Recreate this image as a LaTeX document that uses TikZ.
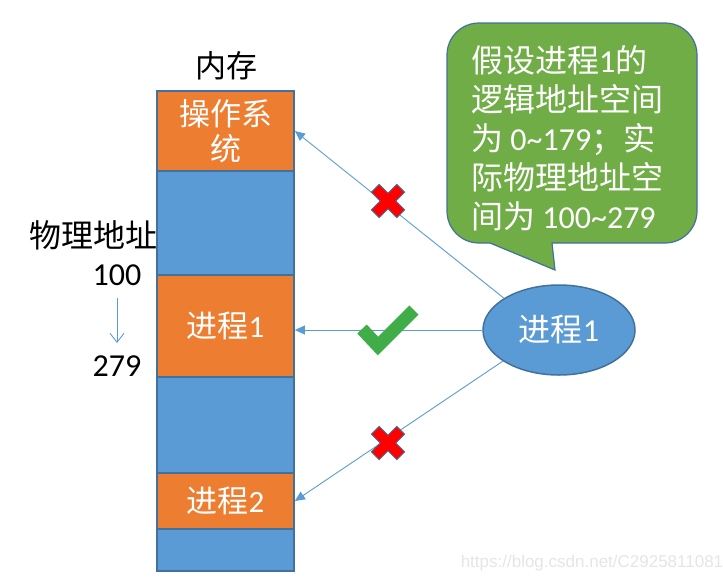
\documentclass[tikz,border=0pt]{standalone}
\usepackage{fontspec}
\setmainfont{Carlito}
\newfontfamily\cjk{Noto Sans CJK SC}
\newfontfamily\wmfont{Liberation Sans}
\usetikzlibrary{arrows.meta,shapes.geometric}
\definecolor{mblue}{HTML}{5B9BD5}
\definecolor{morange}{HTML}{ED7D31}
\definecolor{mborder}{HTML}{41719C}
\definecolor{mgreen}{HTML}{70AD47}
\definecolor{mcheck}{HTML}{41AD49}
\definecolor{mred}{HTML}{FF0000}
\definecolor{xborder}{HTML}{4A6A8E}
\begin{document}
\begin{tikzpicture}[x=1pt,y=-1pt,
  seg/.style={draw=mborder, line width=1.8pt, minimum width=137pt, inner sep=0pt,
              text=white, font=\fontsize{31}{35}\selectfont, align=center},
  lbl/.style={text=black, font=\fontsize{32}{35}\selectfont, inner sep=0pt},
  arr/.style={draw=mblue, line width=0.9pt, -{Triangle[length=10pt,width=9pt]}},
  xmark/.style={fill=mred, draw=xborder, line width=1pt, line join=miter},
  checkmark/.style={draw=mcheck, line width=13pt, line join=miter, line cap=butt}
]
\useasboundingbox (0,0) rectangle (723,584);

% memory column
\node[seg, fill=morange, minimum height=80pt]  (os) at (225.5,131) {{\cjk 操作系}\\{\cjk 统}};
\node[seg, fill=mblue,   minimum height=104pt] (b1) at (225.5,223) {};
\node[seg, fill=morange, minimum height=102pt] (p1) at (225.5,326) {{\cjk 进程}1};
\node[seg, fill=mblue,   minimum height=96pt]  (b2) at (225.5,425) {};
\node[seg, fill=morange, minimum height=56pt]  (p2) at (225.5,501) {{\cjk 进程}2};
\node[seg, fill=mblue,   minimum height=42pt]  (b3) at (225.5,550) {};

% labels
\node[lbl, font=\fontsize{31}{35}\selectfont] (mem) at (226,66) {\cjk 内存};
\node[lbl] (phys) at (93,235) {\cjk 物理地址};
\node[lbl] (a100) at (117,275) {100};
\node[lbl] (a279) at (117,366) {279};
\draw[draw=mblue, line width=0.9pt, -{Straight Barb[length=9pt,width=14pt]}] (117,298) coordinate (dtop) -- (117,343) coordinate (dbot);

% callout
\draw[fill=mgreen, draw=mborder, line width=1.2pt]
  (490,243) [rounded corners=32pt] -- (447,243) -- (447,23) -- (697,23) -- (697,243) -- (600,243)
  [sharp corners] -- (552,243) -- (555,270) -- cycle;
\node[anchor=north west, inner sep=0pt, text=white, align=left,
      font=\fontsize{32}{39}\selectfont] (ct) at (471,45)
  {{\cjk 假设进程}1{\cjk 的}\\{\cjk 逻辑地址空间}\\{\cjk 为} 0\textasciitilde179{\cjk ；实}\\{\cjk 际物理地址空}\\{\cjk 间为} 100\textasciitilde279};

% process ellipse
\node[ellipse, draw=mborder, line width=1.5pt, fill=mblue, minimum width=152pt, minimum height=90pt,
      inner sep=0pt, text=white, font=\fontsize{32}{35}\selectfont] (e) at (559,330) {{\cjk 进程}1};

% connectors
\draw[arr] (e.150) -- (os.east);
\draw[arr] (e.west) -- (p1.east |- e.west);
\draw[arr] (e.209) -- (p2.east);

% marks
\path[xmark, shift={(388,201)}, rotate=45]
  (-5.5,-18) -- (5.5,-18) -- (5.5,-5.5) -- (18,-5.5) -- (18,5.5) -- (5.5,5.5) -- (5.5,18)
  -- (-5.5,18) -- (-5.5,5.5) -- (-18,5.5) -- (-18,-5.5) -- (-5.5,-5.5) -- cycle;
\path[xmark, shift={(388,443)}, rotate=45]
  (-5.5,-18) -- (5.5,-18) -- (5.5,-5.5) -- (18,-5.5) -- (18,5.5) -- (5.5,5.5) -- (5.5,18)
  -- (-5.5,18) -- (-5.5,5.5) -- (-18,5.5) -- (-18,-5.5) -- (-5.5,-5.5) -- cycle;
\draw[checkmark] (362,329) -- (378,346) -- (414,310);

% watermark
\node[text=black!10, font=\wmfont\fontsize{17}{20}\selectfont, inner sep=0pt] (wm) at (592,563)
  {https://blog.csdn.net/C2925811081};
\end{tikzpicture}
\end{document}
